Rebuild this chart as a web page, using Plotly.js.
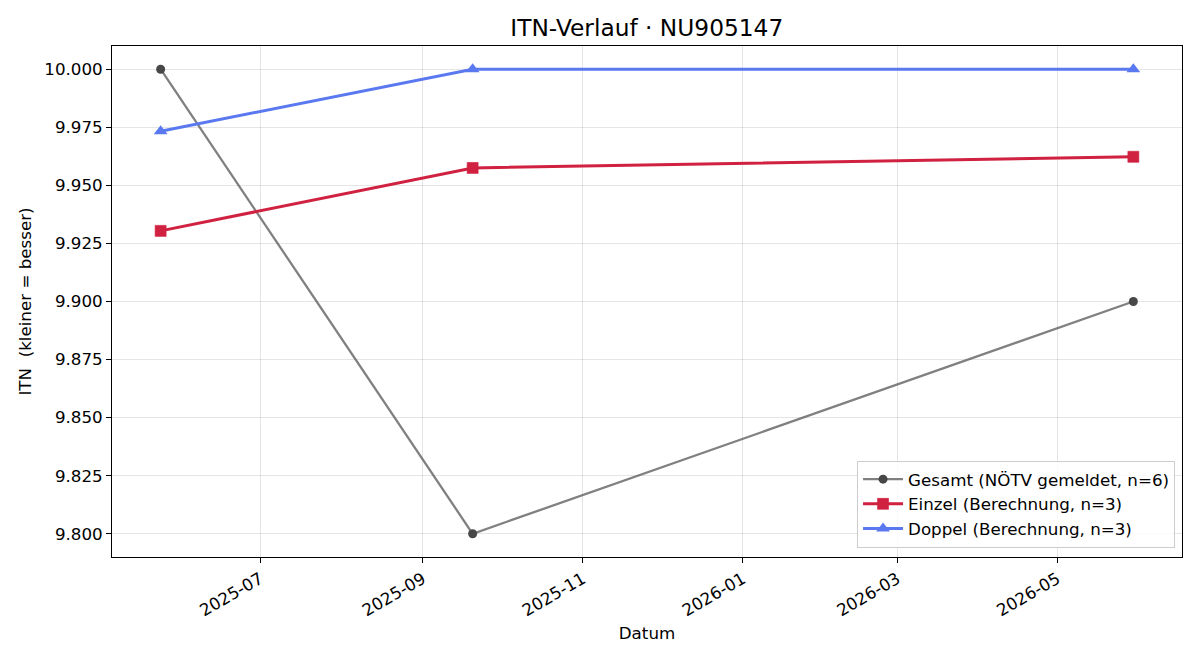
<!DOCTYPE html>
<html>
<head>
<meta charset="utf-8">
<script src="https://cdn.plot.ly/plotly-3.0.1.min.js"></script>
<style>html,body{margin:0;padding:0;background:#fff;}#chart{width:1200px;height:660px;}</style>
</head>
<body>
<div id="chart"></div>
<script>
const dates = ["2025-05-24", "2025-09-20", "2026-05-30"];
const gesamt = [10.000, 9.800, 9.900];
const einzel = [9.9304, 9.9575, 9.9623];
const doppel = [9.9733, 10.000, 10.000];
const tickDates = ["2025-07-01", "2025-09-01", "2025-11-01", "2026-01-01", "2026-03-01", "2026-05-01"];
const tickLabels = ["2025-07", "2025-09", "2025-11", "2026-01", "2026-03", "2026-05"];
const yTicks = [9.800, 9.825, 9.850, 9.875, 9.900, 9.925, 9.950, 9.975, 10.000];

const FONT = "DejaVu Sans, sans-serif";
const FS = 16.7;

const traces = [
  {
    x: dates, y: gesamt, name: "Gesamt (NÖTV gemeldet, n=6)",
    mode: "lines+markers", type: "scatter",
    line: {color: "rgba(85,85,85,0.75)", width: 2.3},
    marker: {symbol: "circle", size: 9, color: "#474747"}
  },
  {
    x: dates, y: einzel, name: "Einzel (Berechnung, n=3)",
    mode: "lines+markers", type: "scatter",
    line: {color: "#d02141", width: 3},
    marker: {symbol: "square", size: 11, color: "#d02141", line: {color: "rgba(208,33,65,0.6)", width: 1}}
  },
  {
    x: dates, y: doppel, name: "Doppel (Berechnung, n=3)",
    mode: "lines+markers", type: "scatter",
    line: {color: "#5a78f0", width: 3},
    marker: {symbol: "triangle-up", size: 12, color: "#5a78f0"}
  }
];

const layout = {
  width: 1200, height: 660,
  paper_bgcolor: "#fff", plot_bgcolor: "#fff",
  margin: {l: 112, r: 18, t: 46, b: 103},
  font: {family: FONT, size: FS, color: "#000"},
  title: {text: "ITN-Verlauf · NU905147", font: {family: FONT, size: 23.3, color: "#000"},
          x: 0.539, xanchor: "center", yref: "container", y: 1 - 28/660, yanchor: "middle"},
  showlegend: true,
  legend: {
    x: 0.9935, xanchor: "right", y: 0.018, yanchor: "bottom",
    bgcolor: "rgba(255,255,255,0.8)", bordercolor: "#cccccc", borderwidth: 1,
    font: {family: FONT, size: FS, color: "#000"},
    tracegroupgap: 0, itemwidth: 40
  },
  xaxis: {
    type: "date",
    range: ["2025-05-05 10:48", "2026-06-17 13:12"],
    tickmode: "array", tickvals: tickDates, ticktext: tickLabels,
    tickangle: -30,
    ticks: "outside", ticklen: 5, tickcolor: "#000", tickwidth: 1,
    showline: true, linecolor: "#000", linewidth: 1, mirror: true,
    showgrid: true, gridcolor: "rgba(0,0,0,0.1)", gridwidth: 1,
    zeroline: false,
    tickfont: {family: FONT, size: FS, color: "#000"},
    title: {text: "Datum", font: {family: FONT, size: FS, color: "#000"}, standoff: 8}
  },
  yaxis: {
    range: [9.79, 10.01],
    tickmode: "array", tickvals: yTicks, tickformat: ".3f",
    ticks: "outside", ticklen: 5, tickcolor: "#000", tickwidth: 1,
    showline: true, linecolor: "#000", linewidth: 1, mirror: true,
    showgrid: true, gridcolor: "rgba(0,0,0,0.1)", gridwidth: 1,
    zeroline: false,
    tickfont: {family: FONT, size: FS, color: "#000"},
    title: {text: "ITN \u00a0(kleiner = besser)", font: {family: FONT, size: FS, color: "#000"}, standoff: 8}
  }
};

Plotly.newPlot("chart", traces, layout, {displayModeBar: false, responsive: false});
</script>
</body>
</html>
